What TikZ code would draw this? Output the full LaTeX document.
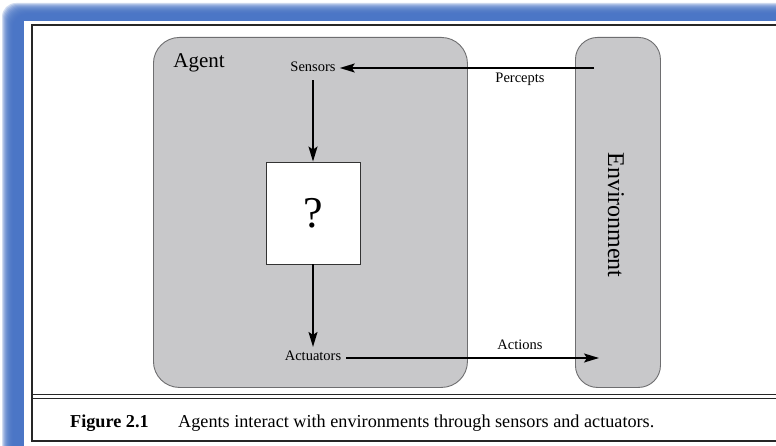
\documentclass[tikz,border=0pt]{standalone}
\usepackage{fontspec}
\setmainfont{Liberation Serif}
\usetikzlibrary{arrows.meta}
\definecolor{frameblue}{RGB}{72,116,198}
\definecolor{boxgray}{RGB}{200,200,202}
\definecolor{boxedge}{RGB}{110,110,112}
\tikzset{
  panel/.style={fill=boxgray, draw=boxedge, line width=0.9pt},
  lbl/.style={inner sep=0pt, font=\fontsize{14.5}{16}\selectfont},
  flow/.style={line width=1.6pt, -{Stealth[length=15pt,width=9pt,inset=3pt]}},
  rule/.style={line width=1.3pt, draw=black!85}
}
\begin{document}
\begin{tikzpicture}[x=1pt, y=-1pt]
\useasboundingbox (0,0) rectangle (776,446);
\fill[white] (0,0) rectangle (776,446);
% soft blue edge along top and left
\foreach \k in {2,...,13}
  \fill[frameblue, opacity=0.25, rounded corners=14pt] (\k,\k+1) rectangle (820,480);
\fill[white] (24,21) rectangle (790,460);
% figure frame
\draw[rule] (780,25) -- (32,25) -- (32,441) -- (780,441);
\draw[rule, line width=1pt] (32,394) -- (780,394);
\draw[rule, line width=1pt] (32,398) -- (780,398);
% agent and environment panels
\node[panel, rounded corners=26pt, minimum width=314pt, minimum height=350pt, anchor=north west] (agent) at (153,37) {};
\node[panel, rounded corners=22pt, minimum width=85pt, minimum height=350pt, anchor=north west] (env) at (575,37) {};
\node[inner sep=0pt, font=\fontsize{21}{24}\selectfont] (agentlbl) at (199,63) {Agent};
\node[inner sep=0pt, rotate=-90, font=\fontsize{24}{26}\selectfont] (envlbl) at (616,215) {Environment};
% inner parts
\node[lbl] (sensors) at (313,67) {Sensors};
\node[lbl] (actuators) at (313,356) {Actuators};
\node[draw=black!80, line width=0.9pt, fill=white, minimum width=94pt, minimum height=102pt, inner sep=0pt, font=\fontsize{44}{46}\selectfont] (q) at (313,213) {?};
\coordinate (penv) at (594,68);
\coordinate (aenv) at (599,358);
\draw[flow] (penv) -- ([xshift=4pt]sensors.east |- penv);
\draw[flow] ([yshift=-8pt]sensors.south) -- (q.north);
\draw[flow] (q.south) -- ([yshift=4pt]actuators.north);
\draw[flow] ([xshift=5pt]actuators.east |- aenv) -- (aenv);
\node[lbl] (percepts) at (520,79) {Percepts};
\node[lbl] (actions) at (520,345) {Actions};
% caption
\node[inner sep=0pt, anchor=base west, font=\fontsize{18.2}{20}\bfseries] (fig) at (70,427) {Figure 2.1};
\node[inner sep=0pt, anchor=base west, font=\fontsize{18.2}{20}\selectfont] (cap) at (178,427) {Agents interact with environments through sensors and actuators.};
\end{tikzpicture}
\end{document}
